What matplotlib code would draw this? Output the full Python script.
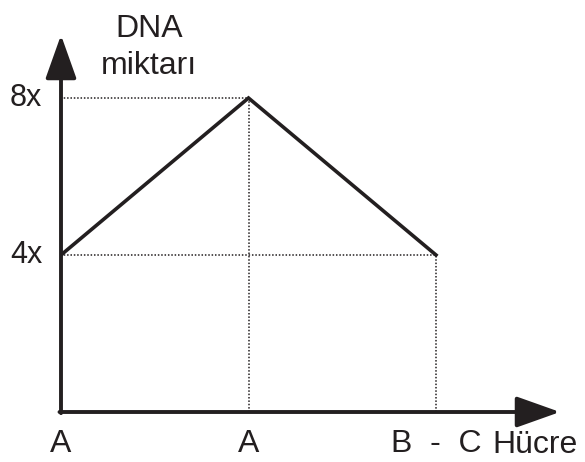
import matplotlib.pyplot as plt

plt.rcParams['font.family'] = ['Liberation Sans', 'DejaVu Sans']

# data
stages = [0, 1, 2]
dna = [4, 8, 4]
x_labels = ['A', 'A', 'B  -  C']
y_ticks = [4, 8]
y_labels = ['4x', '8x']

W, H = 585, 462
fig = plt.figure(figsize=(W / 100, H / 100), dpi=100)
# axes: origin at pixel (61, 412)
x0, y0 = 61, 412
xs, ys = 187.5, 39.25  # pixels per unit
x_end, y_end = 560, 35
ax = fig.add_axes([x0 / W, (H - y0) / H, (x_end - x0) / W, (y0 - y_end) / H])
ax.set_xlim(0, (x_end - x0) / xs)
ax.set_ylim(0, (y0 - y_end) / ys)
ax.axis('off')

ink = '#231f20'
lw = 2.8
# axes with arrows
arrow = dict(arrowstyle='-|>,head_length=1.35,head_width=0.48', mutation_scale=20,
             lw=lw, color=ink, shrinkA=0, shrinkB=0)
ax.annotate('', xy=(1.0, 0), xytext=(-0.003, 0), xycoords='axes fraction', arrowprops=arrow)
ax.annotate('', xy=(0, 1.0), xytext=(0, -0.003), xycoords='axes fraction', arrowprops=arrow)

# dotted guides
for yv in y_ticks:
    xmax = max(s for s, d in zip(stages, dna) if d == yv)
    ax.plot([-0.02, xmax], [yv, yv], ls=(0, (1, 1.2)), color=ink, lw=1.1)
for s, d in zip(stages[1:], dna[1:]):
    ax.plot([s, s], [0, d], ls=(0, (1, 1.2)), color=ink, lw=1.1)

# main line
ax.plot(stages, dna, color=ink, lw=2.6, solid_joinstyle='miter')

# labels
fs = 23
for yv, lab in zip(y_ticks, y_labels):
    ax.text(-0.10, yv, lab, ha='right', va='center', fontsize=22, color=ink)
for s, lab in zip(stages, x_labels):
    ax.text(s, -1.02, lab, ha='center', va='baseline', fontsize=fs, color=ink)
ax.text(2.3, -1.05, 'Hücre', ha='left', va='baseline', fontsize=fs, color=ink)
ax.text(0.47, 9.55, 'DNA', ha='center', va='baseline', fontsize=fs, color=ink)
ax.text(0.47, 8.6, 'miktarı', ha='center', va='baseline', fontsize=fs, color=ink)

fig.savefig('out.png', dpi=100)
